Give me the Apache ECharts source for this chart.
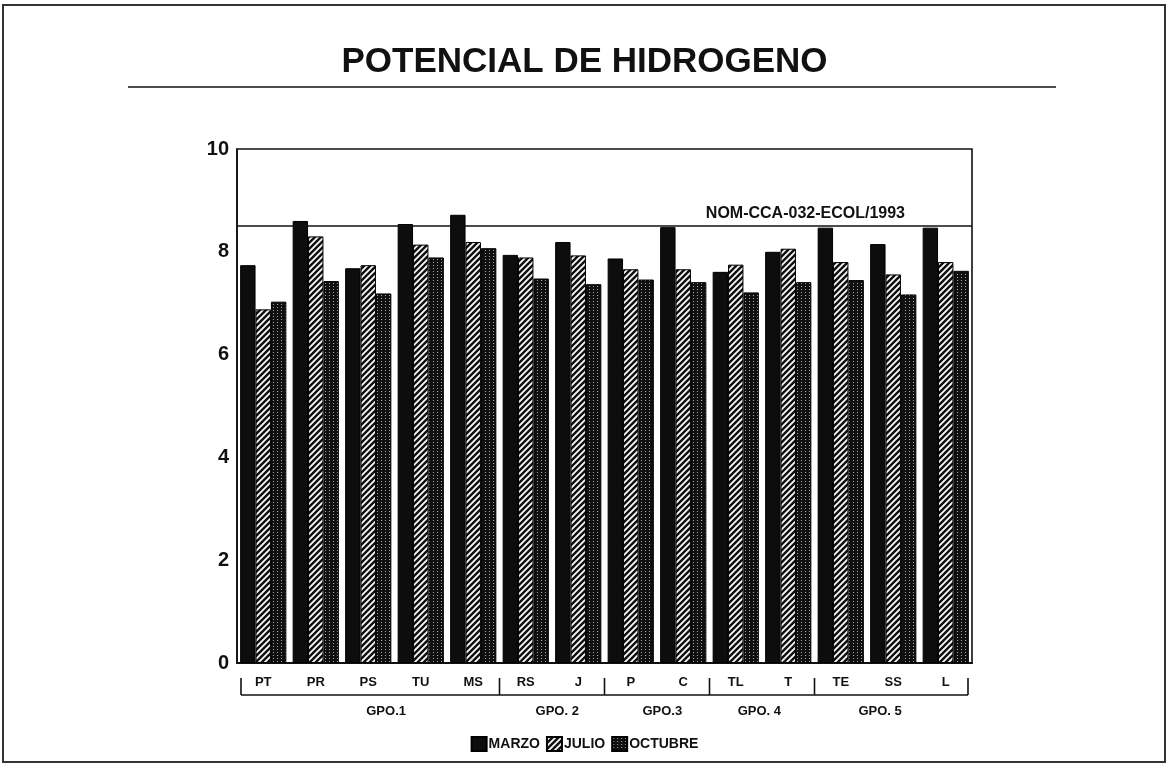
<!DOCTYPE html>
<html>
<head>
<meta charset="utf-8">
<script src="https://cdn.jsdelivr.net/npm/echarts@6/dist/echarts.min.js"></script>
<style>
html,body{margin:0;padding:0;background:#fff;}
#main{width:1169px;height:769px;}
</style>
</head>
<body>
<div id="main"></div>
<script>
// ---- data ----
const categories = ['PT','PR','PS','TU','MS','RS','J','P','C','TL','T','TE','SS','L'];
const marzo   = [7.74, 8.60, 7.68, 8.54, 8.72, 7.94, 8.19, 7.87, 8.48, 7.61, 8.00, 8.47, 8.15, 8.47];
const julio   = [6.88, 8.30, 7.74, 8.14, 8.19, 7.89, 7.93, 7.66, 7.66, 7.75, 8.06, 7.80, 7.56, 7.80];
const octubre = [7.03, 7.43, 7.19, 7.89, 8.07, 7.48, 7.37, 7.46, 7.41, 7.21, 7.41, 7.45, 7.17, 7.63];
const seriesNames = ['MARZO','JULIO','OCTUBRE'];
const groupNames = ['GPO.1','GPO. 2','GPO.3','GPO. 4','GPO. 5'];
const groupFrom  = [0, 5, 7, 9, 11];
const groupTo    = [4, 6, 8, 10, 13];
const normValue = 8.5;
const normLabel = 'NOM-CCA-032-ECOL/1993';
const titleText = 'POTENCIAL DE HIDROGENO';
const yTicks = {min: 0, max: 10, interval: 2};

// ---- layout (group label anchors, in category units) ----
const groupLabelAt = [2.84, 6.1, 8.1, 9.95, 12.25];

// ---- patterns ----
function hatchPattern(){
  const c = document.createElement('canvas'); c.width = 6; c.height = 6;
  const g = c.getContext('2d');
  g.fillStyle = '#fff'; g.fillRect(0,0,6,6);
  g.strokeStyle = '#111'; g.lineWidth = 2.5;
  g.beginPath();
  g.moveTo(-3,3); g.lineTo(3,-3);
  g.moveTo(0,6); g.lineTo(6,0);
  g.moveTo(3,9); g.lineTo(9,3);
  g.stroke();
  return c;
}
function dotPattern(){
  const c = document.createElement('canvas'); c.width = 4; c.height = 3;
  const g = c.getContext('2d');
  g.fillStyle = '#101010'; g.fillRect(0,0,4,3);
  g.fillStyle = '#a8a8a8'; g.fillRect(1,1,1,1);
  return c;
}
const fills = ['#0d0d0d', {image: hatchPattern(), repeat: 'repeat'}, {image: dotPattern(), repeat: 'repeat'}];
const values = [marzo, julio, octubre];

const font = '"Liberation Sans", Arial, Helvetica, sans-serif';
const chart = echarts.init(document.getElementById('main'), null, {renderer: 'canvas'});

const series = seriesNames.map((name, i) => {
  const s = {
    name: name,
    type: 'bar',
    data: values[i],
    barGap: '0%',
    barCategoryGap: '12%',
    itemStyle: {color: fills[i], borderColor: '#000', borderWidth: 1},
    emphasis: {disabled: true}
  };
  if (i === 0) {
    s.markLine = {
      silent: true,
      symbol: ['none','none'],
      lineStyle: {color: '#111', width: 1.6, type: 'solid'},
      label: {
        show: true, position: 'insideEndTop', formatter: normLabel,
        fontFamily: font, fontWeight: 'bold', fontSize: 16, color: '#111',
        padding: [0, 62, 0, 0], distance: 5
      },
      data: [{yAxis: normValue}]
    };
  }
  return s;
});

chart.setOption({
  animation: false,
  textStyle: {fontFamily: font},
  title: {
    text: titleText, left: 'center', top: 40,
    textStyle: {fontFamily: font, fontWeight: 'bold', fontSize: 35, color: '#111'}
  },
  legend: {
    data: seriesNames, left: 'center', top: 731,
    itemWidth: 15, itemHeight: 14, itemGap: 6,
    icon: 'rect',
    textStyle: {fontFamily: font, fontWeight: 'bold', fontSize: 14, color: '#111', padding: [0,0,0,-3]}
  },
  grid: {left: 237, right: 197, top: 149, bottom: 106, show: true, borderColor: '#111', borderWidth: 1.6, containLabel: false},
  xAxis: {
    type: 'category', data: categories,
    axisLine: {lineStyle: {color: '#111', width: 2}},
    axisTick: {show: false},
    axisLabel: {fontFamily: font, fontWeight: 'bold', fontSize: 13, color: '#111', margin: 13}
  },
  yAxis: {
    type: 'value', min: yTicks.min, max: yTicks.max, interval: yTicks.interval,
    axisLine: {show: true, lineStyle: {color: '#111', width: 1.6}},
    axisTick: {show: false},
    splitLine: {show: false},
    axisLabel: {fontFamily: font, fontWeight: 'bold', fontSize: 20, color: '#111', margin: 8}
  },
  series: series
});

// ---- decorations from the axis scale ----
const cx = i => chart.convertToPixel({xAxisIndex: 0}, i);
const band = cx(1) - cx(0);
const edge = i => cx(0) + (i - 0.5) * band; // left edge of category i (fractional)
const inset = 4;
const tickTop = 678, tickBottom = 695;
const graphics = [];
// frame
graphics.push({type: 'rect', shape: {x: 3, y: 5, width: 1162, height: 757}, style: {fill: 'none', stroke: '#333', lineWidth: 2}, silent: true});
// title underline
graphics.push({type: 'line', shape: {x1: 128, y1: 87, x2: 1056, y2: 87}, style: {stroke: '#111', lineWidth: 1.6}, silent: true});
// group bracket
const xStart = edge(0) + inset, xEnd = edge(categories.length) - inset;
graphics.push({type: 'line', shape: {x1: xStart, y1: tickBottom, x2: xEnd, y2: tickBottom}, style: {stroke: '#111', lineWidth: 1.6}, silent: true});
const bounds = [xStart].concat(groupTo.slice(0, -1).map(t => edge(t + 1))).concat([xEnd]);
bounds.forEach(x => {
  graphics.push({type: 'line', shape: {x1: x, y1: tickTop, x2: x, y2: tickBottom}, style: {stroke: '#111', lineWidth: 1.6}, silent: true});
});
groupNames.forEach((n, k) => {
  graphics.push({type: 'text', x: edge(groupLabelAt[k]), y: 711, silent: true,
    style: {text: n, fill: '#111', font: 'bold 13px ' + font, textAlign: 'center', textVerticalAlign: 'middle'}});
});
chart.setOption({graphic: graphics});
</script>
</body>
</html>
